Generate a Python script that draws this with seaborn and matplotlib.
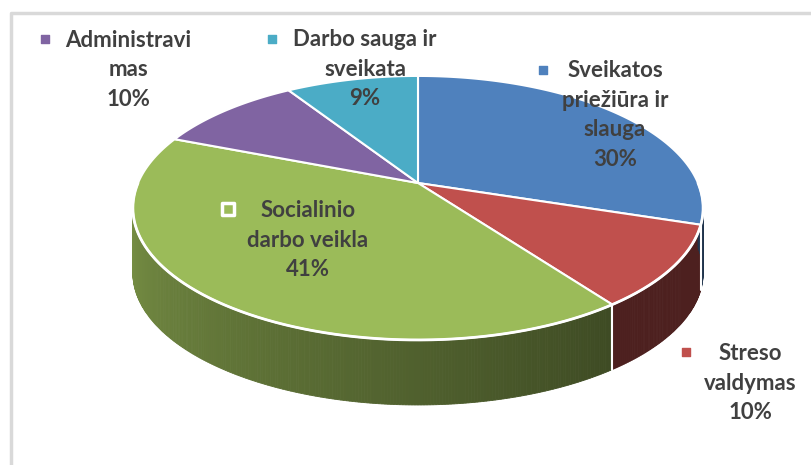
import numpy as np
import matplotlib.pyplot as plt
import seaborn as sns
from matplotlib.patches import Polygon

# Slice data (clockwise from 12 o'clock)
labels = ["Sveikatos\npriežiūra ir\nslauga", "Streso\nvaldymas",
          "Socialinio\ndarbo veikla", "Administravi\nmas",
          "Darbo sauga ir\nsveikata"]
shares = [30, 10, 41, 10, 9]
colors = ["#4f81bd", "#c0504d", "#9bbb59", "#8064a2", "#4bacc6"]

sns.set_style("white")
plt.rcParams['font.family'] = ['Lato', 'DejaVu Sans']

W, H = 811, 465
fig = plt.figure(figsize=(W / 100, H / 100), dpi=100)
ax = fig.add_axes([0, 0, 1, 1])
ax.set_xlim(0, W)
ax.set_ylim(H, 0)
ax.axis('off')

# 3D pie geometry (pixel space, simple perspective)
cx, cy, R, Hr, k, depth = 418, 183, 280, 127.3, 0.189, 65


def proj(t):
    s = 1 + k * np.sin(t)
    return cx + R * np.cos(t) / s, cy - Hr * np.sin(t) / s


total = sum(shares)
cum = np.concatenate([[0], np.cumsum(shares)])
starts = np.deg2rad(90 - 360 * cum[:-1] / total)
ends = np.deg2rad(90 - 360 * cum[1:] / total)


def slice_of(t):
    for i in range(len(shares)):
        if (starts[i] - t) % (2 * np.pi) < (starts[i] - ends[i]):
            return i
    return 0


def shade(t):
    d = np.rad2deg(t) - 180
    return max(0.4, 0.8 - 0.4 * d / 126)


# side wall (front half only)
ts = np.linspace(np.pi, 2 * np.pi, 361)
for a, b in zip(ts[:-1], ts[1:]):
    i = slice_of((a + b) / 2)
    f = shade((a + b) / 2)
    base = np.array(plt.matplotlib.colors.to_rgb(colors[i]))
    c = tuple(base * f)
    xa, ya = proj(a)
    xb, yb = proj(b)
    ax.add_patch(Polygon([(xa, ya), (xb, yb), (xb, yb + depth), (xa, ya + depth)],
                         closed=True, facecolor=c, edgecolor=c, lw=0.6))

# white seams on side wall
for t in list(starts):
    tt = t % (2 * np.pi)
    if np.pi < tt < 2 * np.pi:
        x0, y0 = proj(tt)
        ax.plot([x0, x0], [y0, y0 + depth], color="white", lw=1.5)

tf = np.linspace(np.pi, 2 * np.pi, 200)
xf, yf = proj(tf)
ax.plot(xf, yf, color="white", lw=2)

# top face
for i in range(len(shares)):
    tt = np.linspace(starts[i], ends[i], 120)
    xs, ys = proj(tt)
    pts = [(cx, cy)] + list(zip(xs, ys))
    ax.add_patch(Polygon(pts, closed=True, facecolor=colors[i],
                         edgecolor="white", lw=1.5, joinstyle="round"))

# data labels with legend keys
label_pos = [(615, 115), (750, 383), (308, 240), (128, 70), (365, 69)]
key_pos = [(543, 70), (686, 352), (228, 209), (45, 39), (272, 39)]
for i, lab in enumerate(labels):
    txt = f"{lab}\n{shares[i]}%"
    ax.text(*label_pos[i], txt, ha="center", va="center", ma="center",
            fontsize=16, fontweight="bold", color="#404040", linespacing=1.5)
    if i == 2:
        ax.scatter(*key_pos[i], marker="s", s=75, facecolor=colors[i],
                   edgecolor="white", linewidth=2.5, zorder=5)
    else:
        ax.scatter(*key_pos[i], marker="s", s=28, color=colors[i], zorder=5)

# chart area border
ax.plot([11, 11, W], [H, 13, 13], color="#d9d9d9", lw=2.5)

fig.savefig("out.png", dpi=100)
